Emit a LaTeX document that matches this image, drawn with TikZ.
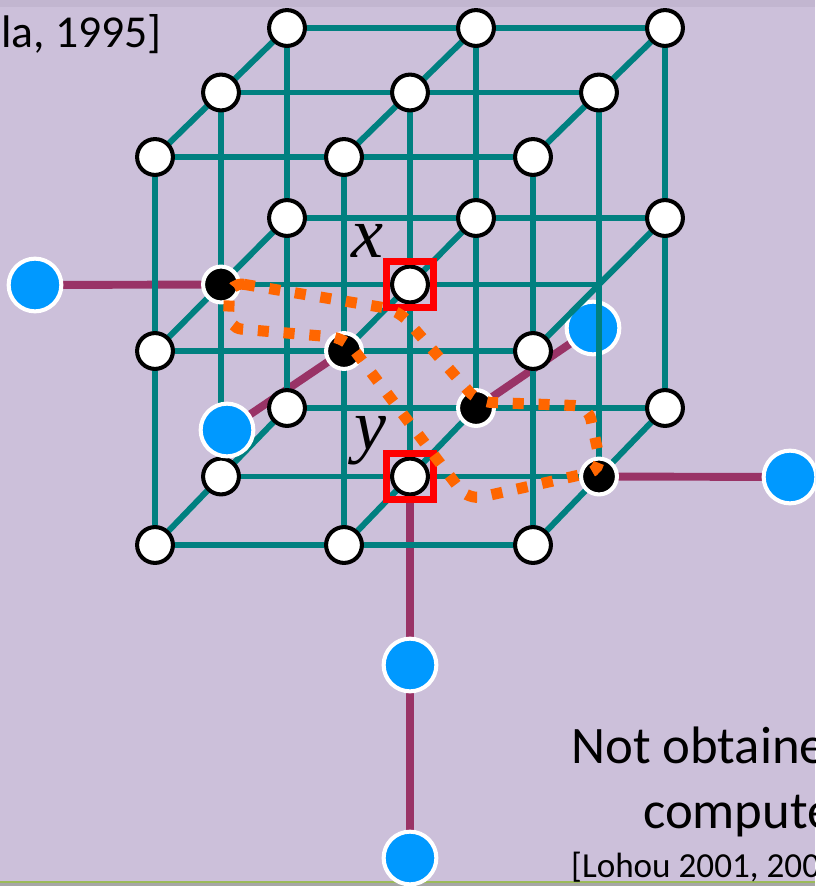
\documentclass[tikz,border=0pt]{standalone}
\usepackage{fontspec}
\setmainfont{Carlito}
\newfontfamily\varfont{Liberation Serif}
\definecolor{slidebg}{RGB}{204,192,218}
\definecolor{slidetop}{RGB}{194,182,208}
\definecolor{gridteal}{RGB}{0,128,128}
\definecolor{linkpurple}{RGB}{153,51,102}
\definecolor{outblue}{RGB}{0,153,255}
\definecolor{loopcol}{RGB}{255,102,0}
\definecolor{footgreen}{RGB}{155,187,89}
\definecolor{footgray}{RGB}{166,166,166}

\tikzset{
  gridline/.style={gridteal, line width=3.4pt},
  link/.style={linkpurple, line width=4.5pt},
  vox/.style={circle, draw=black, fill=white, line width=2.3pt, minimum size=20.4pt, inner sep=0pt},
  voxon/.style={vox, draw=white, fill=black},
  outside/.style={circle, draw=white, fill=outblue, line width=2.3pt, minimum size=30pt, inner sep=0pt},
  pickbox/.style={draw=red, line width=4pt, minimum size=26.6pt, inner sep=0pt},
  varlabel/.style={font=\varfont\itshape\fontsize{41}{41}\selectfont, inner sep=0pt},
}

\begin{document}
\begin{tikzpicture}[x=0.02cm, y=-0.02cm]
\useasboundingbox (0,0) rectangle (815,886);
\clip (0,0) rectangle (815,886);
\fill[slidebg] (0,0) rectangle (815,886);
\fill[slidetop] (0,0) rectangle (815,7);
\fill[footgray] (0,882) rectangle (815,886);
\draw[footgreen, line width=1.5pt] (0,882) -- (815,882);

% lattice points p<i><j><k>: i left-right, j back-front, k top-bottom
\foreach \i in {0,1,2}
  \foreach \j in {0,1,2}
    \foreach \k in {0,1,2} {
      \pgfmathsetmacro\px{287+189*\i-66*\j}
      \pgfmathsetmacro\py{28+190*\k+64.5*\j+2*\j*\k}
      \coordinate (p\i\j\k) at (\px,\py);
    }

% neighbours outside the cube
\coordinate (qleft) at (35,285);
\coordinate (qback) at (593,328);
\coordinate (qfront) at (227,430);
\coordinate (qright) at (790,477);
\coordinate (qdown) at (410,665);
\coordinate (qlow) at (410,858);

\draw[link] (qleft) -- (p011);
\draw[link] (qback) -- (p102);
\draw[link] (qfront) -- (p121);
\draw[link] (qright) -- (p212);
\draw[link] (p112) -- (qdown) -- (qlow);
\node[outside] (bback) at (qback) {};

% the grid
\foreach \a in {0,1,2}
  \foreach \b in {0,1,2} {
    \draw[gridline] (p\a\b0) -- (p\a\b2);
    \draw[gridline] (p0\a\b) -- (p2\a\b);
    \draw[gridline] (p\a0\b) -- (p\a2\b);
  }

\foreach \p in {000,100,200,010,110,210,020,120,220,
                001,101,201,021,221,
                002,202,012,022,122,222}
  \node[vox] (v\p) at (p\p) {};
\node[vox] (vx) at (p111) {};
\node[vox] (vy) at (p112) {};
\foreach \p in {011,121,102,212}
  \node[voxon] (v\p) at (p\p) {};

\node[pickbox] (boxx) at (vx) {};
\node[pickbox] (boxy) at (vy) {};
\node[varlabel, anchor=base] (labx) at (367,257) {x};
\node[varlabel, anchor=base] (laby) at (370,449) {y};

% the loop through the black points
\draw[loopcol, line width=6.3pt, dash pattern=on 6.3pt off 8.4pt, rounded corners=8pt]
  (230,282) -- (398,310) -- (478,402) -- (588,406) -- (602,470)
  -- (468,500) -- (345,338) -- (228,328) -- cycle;

\node[outside] (bfront) at (qfront) {};
\node[outside] (bleft) at (qleft) {};
\node[outside] (bright) at (qright) {};
\node[outside] (bdown) at (qdown) {};
\node[outside] (blow) at (qlow) {};

\node[anchor=base east, font=\fontsize{26}{26}\selectfont] (citetop) at (168,47) {la, 1995]};
\node[anchor=base west, font=\fontsize{30}{30}\selectfont] (noteone) at (565,763) {Not obtaine};
\node[anchor=base west, font=\fontsize{30}{30}\selectfont] (notetwo) at (637,828) {compute};
\node[anchor=base west, font=\fontsize{20}{20}\selectfont] (citelow) at (565,877) {[Lohou 2001, 200};
\end{tikzpicture}
\end{document}
